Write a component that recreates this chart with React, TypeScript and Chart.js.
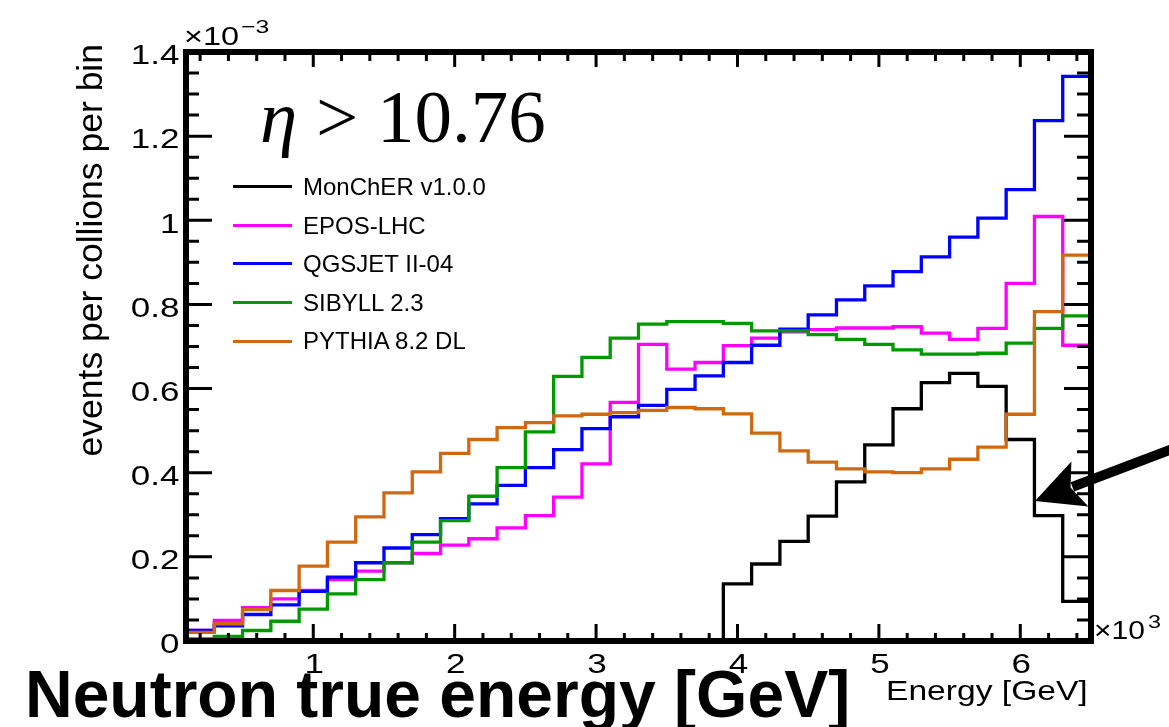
import React, { useEffect, useRef } from "react";
import { Chart, registerables } from "chart.js";

Chart.register(...registerables);

// ---------- data (values in units of 1e-3 events per collision per bin) ----------
const binEdges = [
  100, 300, 500, 700, 900, 1100, 1300, 1500, 1700, 1900, 2100, 2300, 2500, 2700, 2900, 3100, 3300,
  3500, 3700, 3900, 4100, 4300, 4500, 4700, 4900, 5100, 5300, 5500, 5700, 5900, 6100, 6300, 6500,
];

const monCher = [
  0, 0, 0, 0, 0, 0, 0, 0, 0, 0, 0, 0, 0, 0, 0, 0, 0, 0, 0,
  0.136, 0.183, 0.237, 0.297, 0.378, 0.466, 0.552, 0.614, 0.636, 0.605, 0.479, 0.298, 0.094,
];

const eposLhc = [
  0.025, 0.049, 0.079, 0.1, 0.12, 0.146, 0.166, 0.186, 0.208, 0.228, 0.243, 0.269, 0.298, 0.342,
  0.421, 0.567, 0.705, 0.646, 0.662, 0.702, 0.72, 0.735, 0.74, 0.744, 0.744, 0.747, 0.732, 0.717,
  0.743, 0.85, 1.009, 0.703,
];

const qgsjet = [
  0.025, 0.036, 0.063, 0.086, 0.118, 0.152, 0.186, 0.221, 0.253, 0.291, 0.326, 0.37, 0.412, 0.455,
  0.505, 0.533, 0.56, 0.598, 0.63, 0.662, 0.703, 0.741, 0.775, 0.811, 0.844, 0.878, 0.913, 0.96,
  1.005, 1.073, 1.237, 1.342,
];

const sibyll = [
  0.005, 0.011, 0.025, 0.047, 0.076, 0.112, 0.146, 0.186, 0.235, 0.286, 0.344, 0.412, 0.497, 0.629,
  0.674, 0.72, 0.753, 0.759, 0.759, 0.755, 0.737, 0.737, 0.728, 0.717, 0.705, 0.692, 0.682, 0.682,
  0.684, 0.708, 0.743, 0.773,
];

const pythia = [
  0.0205, 0.041, 0.0745, 0.12, 0.178, 0.235, 0.295, 0.352, 0.402, 0.446, 0.479, 0.507, 0.519, 0.535,
  0.539, 0.543, 0.548, 0.555, 0.552, 0.54, 0.494, 0.452, 0.425, 0.409, 0.402, 0.4, 0.409, 0.432,
  0.461, 0.539, 0.783, 0.917,
];

const seriesNames = ["MonChER v1.0.0", "EPOS-LHC", "QGSJET II-04", "SIBYLL 2.3", "PYTHIA 8.2 DL"];
const seriesValues = [monCher, eposLhc, qgsjet, sibyll, pythia];
const seriesColors = ["#000000", "#ff00ff", "#0000ff", "#009a00", "#d06810"];

const yTickValues = [0, 0.2, 0.4, 0.6, 0.8, 1, 1.2, 1.4];
const yTickLabels = ["0", "0.2", "0.4", "0.6", "0.8", "1", "1.2", "1.4"];
const xTickValues = [1000, 2000, 3000, 4000, 5000, 6000];
const xTickLabels = ["1", "2", "3", "4", "5", "6"];
const yMinorStep = 0.05;
const xMinorStep = 200;

const yTitle = "events per collions per bin";
const xTitle = "Energy [GeV]";
const cutLabelVar = "η";
const cutLabelRest = " > 10.76";
const bigTitle = "Neutron true energy [GeV]";

const SANS = '"Liberation Sans", Arial, Helvetica, sans-serif';
const SERIF = '"Liberation Serif", "Times New Roman", serif';

function histPoints(values: number[]) {
  const pts = values.map((v, i) => ({ x: binEdges[i], y: v }));
  pts.push({ x: binEdges[values.length], y: values[values.length - 1] });
  return pts;
}

function stretchedText(
  ctx: CanvasRenderingContext2D,
  text: string,
  x: number,
  y: number,
  align: CanvasTextAlign,
  font: string,
  sx: number
) {
  ctx.save();
  ctx.translate(x, y);
  ctx.scale(sx, 1);
  ctx.font = font;
  ctx.textAlign = align;
  ctx.textBaseline = "alphabetic";
  ctx.fillText(text, 0, 0);
  ctx.restore();
}

const rootFramePlugin = {
  id: "rootFrame",
  afterDatasetsDraw(chart: any) {
    const { ctx, chartArea: a } = chart;
    const xs = chart.scales.x;
    const ys = chart.scales.y;
    ctx.save();
    ctx.strokeStyle = "#000";
    ctx.fillStyle = "#000";
    ctx.lineCap = "butt";
    ctx.lineWidth = 3;
    ctx.beginPath();
    const nY = Math.round((ys.max - ys.min) / yMinorStep);
    for (let k = 0; k <= nY; k++) {
      const v = ys.min + k * yMinorStep;
      const major = yTickValues.some((t) => Math.abs(t - v) < 1e-9);
      const py = ys.getPixelForValue(v);
      ctx.moveTo(a.left, py);
      ctx.lineTo(a.left + (major ? 26 : 13), py);
      ctx.moveTo(a.right, py);
      ctx.lineTo(a.right - (major ? 27 : 14), py);
    }
    const startX = Math.ceil(xs.min / xMinorStep) * xMinorStep;
    for (let v = startX; v <= xs.max; v += xMinorStep) {
      const major = xTickValues.includes(v);
      const px = xs.getPixelForValue(v);
      ctx.moveTo(px, a.bottom);
      ctx.lineTo(px, a.bottom - (major ? 17 : 8));
      ctx.moveTo(px, a.top);
      ctx.lineTo(px, a.top + (major ? 15 : 9));
    }
    ctx.stroke();
    ctx.lineWidth = 6;
    ctx.lineJoin = "miter";
    ctx.strokeRect(a.left, a.top, a.right - a.left, a.bottom - a.top);

    // tick labels
    const tickFont = `28px ${SANS}`;
    yTickValues.forEach((v, i) => {
      const py = ys.getPixelForValue(v);
      stretchedText(ctx, yTickLabels[i], a.left - 6.5, py + 12.3, "right", tickFont, 1.25);
    });
    xTickValues.forEach((v, i) => {
      const px = xs.getPixelForValue(v);
      stretchedText(ctx, xTickLabels[i], px + 1, a.bottom + 32, "center", tickFont, 1.25);
    });

    // exponent labels
    stretchedText(ctx, "×10", a.left - 2, a.top - 7, "left", `25px ${SANS}`, 1.3);
    stretchedText(ctx, "−3", a.left + 55, a.top - 19, "left", `19px ${SANS}`, 1.3);
    stretchedText(ctx, "×10", a.right + 3, a.bottom - 2, "left", `25px ${SANS}`, 1.2);
    stretchedText(ctx, "3", a.right + 57, a.bottom - 13, "left", `18px ${SANS}`, 1.3);

    // axis titles
    stretchedText(ctx, xTitle, a.right - 205, a.bottom + 59, "left", `28px ${SANS}`, 1.2);
    ctx.save();
    ctx.translate(101.5, a.top - 8);
    ctx.rotate(-Math.PI / 2);
    ctx.font = `35.5px ${SANS}`;
    ctx.textAlign = "right";
    ctx.textBaseline = "alphabetic";
    ctx.fillText(yTitle, 0, 0);
    ctx.restore();
    ctx.restore();
  },
  afterDraw(chart: any) {
    // annotation arrow pointing at the MonChER drop
    const { ctx } = chart;
    const tip = { x: 1035, y: 501 };
    const tail = { x: 1175, y: 448 };
    const dx = tail.x - tip.x;
    const dy = tail.y - tip.y;
    const len = Math.hypot(dx, dy);
    const ux = dx / len;
    const uy = dy / len;
    const nx = -uy;
    const ny = ux;
    const headLen = 48;
    const headHalf = 24;
    ctx.save();
    ctx.strokeStyle = "#000";
    ctx.fillStyle = "#000";
    ctx.lineWidth = 10;
    ctx.beginPath();
    ctx.moveTo(tip.x + ux * (headLen - 8), tip.y + uy * (headLen - 8));
    ctx.lineTo(tail.x, tail.y);
    ctx.stroke();
    const bx = tip.x + ux * headLen;
    const by = tip.y + uy * headLen;
    ctx.beginPath();
    ctx.moveTo(tip.x, tip.y);
    ctx.lineTo(bx + nx * headHalf, by + ny * headHalf);
    ctx.lineTo(tip.x + ux * (headLen - 10), tip.y + uy * (headLen - 10));
    ctx.lineTo(bx - nx * headHalf, by - ny * headHalf);
    ctx.closePath();
    ctx.fill();
    ctx.restore();
  },
};

export default function App() {
  const canvasRef = useRef<HTMLCanvasElement | null>(null);

  useEffect(() => {
    const canvas = canvasRef.current;
    if (!canvas) return;
    const drawOrder = [5, 4, 3, 2, 1];
    const chart = new Chart(canvas, {
      type: "line",
      data: {
        datasets: seriesValues.map((vals, i) => ({
          label: seriesNames[i],
          data: histPoints(vals),
          borderColor: seriesColors[i],
          backgroundColor: seriesColors[i],
          borderWidth: 3.3,
          stepped: "before" as const,
          pointRadius: 0,
          pointHoverRadius: 0,
          fill: false,
          tension: 0,
          order: drawOrder[i],
          borderJoinStyle: "miter" as const,
          borderCapStyle: "butt" as const,
        })),
      },
      options: {
        responsive: false,
        animation: false,
        devicePixelRatio: 1,
        events: [],
        layout: { padding: { left: 0, right: 78, top: 52, bottom: 0 } },
        plugins: {
          legend: { display: false },
          tooltip: { enabled: false },
          title: { display: false },
        },
        scales: {
          x: {
            type: "linear",
            min: binEdges[0],
            max: binEdges[binEdges.length - 1],
            grid: { display: false },
            border: { display: false },
            ticks: { display: false },
            afterFit: (s: any) => {
              s.height = 86;
            },
          },
          y: {
            type: "linear",
            min: 0,
            max: 1.4,
            grid: { display: false },
            border: { display: false },
            ticks: { display: false },
            afterFit: (s: any) => {
              s.width = 186;
            },
          },
        },
      },
      plugins: [rootFramePlugin],
    });
    return () => chart.destroy();
  }, []);

  const legendTop = 186.7;
  const legendStep = 38.6;

  return (
    <div
      style={{
        position: "fixed",
        left: 0,
        top: 0,
        width: 1169,
        height: 727,
        background: "#ffffff",
        overflow: "hidden",
      }}
    >
      <canvas
        ref={canvasRef}
        width={1169}
        height={727}
        style={{ position: "absolute", left: 0, top: 0, width: 1169, height: 727 }}
      />
      {seriesNames.map((name, i) => {
        const cy = legendTop + i * legendStep;
        return (
          <React.Fragment key={name}>
            <div
              style={{
                position: "absolute",
                left: 233,
                top: cy - 1.5,
                width: 59,
                height: 3,
                background: seriesColors[i],
              }}
            />
            <div
              style={{
                position: "absolute",
                left: 303,
                top: cy - 11.8,
                fontFamily: SANS,
                fontSize: 24,
                lineHeight: "24px",
                whiteSpace: "nowrap",
                color: "#000",
              }}
            >
              {name}
            </div>
          </React.Fragment>
        );
      })}
      <div
        style={{
          position: "absolute",
          left: 260,
          top: 79,
          fontFamily: SERIF,
          fontSize: 75,
          lineHeight: "75px",
          whiteSpace: "pre",
          color: "#000",
        }}
      >
        <span style={{ fontStyle: "italic" }}>{cutLabelVar}</span>
        {cutLabelRest}
      </div>
      <div
        style={{
          position: "absolute",
          left: 25,
          top: 661,
          fontFamily: SANS,
          fontWeight: "bold",
          fontSize: 66,
          lineHeight: "66px",
          whiteSpace: "nowrap",
          color: "#000",
        }}
      >
        {bigTitle}
      </div>
    </div>
  );
}
